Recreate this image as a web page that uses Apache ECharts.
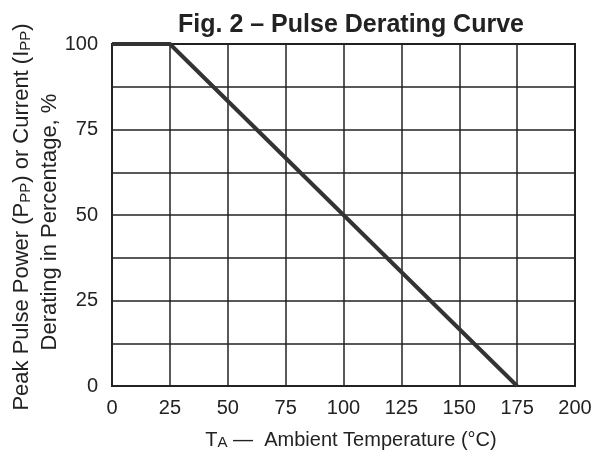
<!DOCTYPE html>
<html>
<head>
<meta charset="utf-8">
<script src="https://cdn.jsdelivr.net/npm/echarts@6/dist/echarts.min.js"></script>
<style>
  html, body { margin: 0; padding: 0; background: #fff; }
  #chart { width: 608px; height: 456px; }
</style>
</head>
<body>
<div id="chart"></div>
<script>
// derating curve: ambient temperature (°C) vs. allowed percentage
const temps = [0, 25, 175];
const percent = [100, 100, 0];
const xTicks = [0, 25, 50, 75, 100, 125, 150, 175, 200];
const yTicks = [0, 25, 50, 75, 100];

const chart = echarts.init(document.getElementById('chart'));
const font = 'Liberation Sans, Arial, Helvetica, sans-serif';
const ink = '#222';

const option = {
  backgroundColor: '#fff',
  animation: false,
  title: {
    text: 'Fig. 2 – Pulse Derating Curve',
    left: 346,
    textAlign: 'center',
    top: 8,
    textStyle: { fontFamily: font, fontSize: 25, fontWeight: 'bold', color: ink }
  },
  grid: {
    left: 112, right: 33, top: 44, bottom: 70,
    show: true, borderColor: ink, borderWidth: 2, backgroundColor: 'transparent'
  },
  xAxis: {
    type: 'value', min: 0, max: 200, interval: 25,
    axisLine: { show: true, lineStyle: { color: ink, width: 2 } },
    axisTick: { show: false },
    axisLabel: {
      margin: 12, color: ink, fontSize: 20, fontFamily: font,
      formatter: v => xTicks.includes(v) ? String(v) : ''
    },
    splitLine: { show: true, lineStyle: { color: ink, width: 1.5 } }
  },
  yAxis: {
    type: 'value', min: 0, max: 100, interval: 12.5,
    axisLine: { show: true, lineStyle: { color: ink, width: 2 } },
    axisTick: { show: false },
    axisLabel: {
      margin: 14, color: ink, fontSize: 20, fontFamily: font,
      formatter: v => yTicks.includes(v) ? String(v) : ''
    },
    splitLine: { show: true, lineStyle: { color: ink, width: 1.5 } }
  },
  graphic: [
    {
      type: 'text',
      x: 22, y: 217, rotation: Math.PI / 2,
      style: {
        text: 'Peak Pulse Power (P{s|PP}) or Current (I{s|PP})',
        fontFamily: font, fontSize: 22, fill: ink,
        align: 'center', verticalAlign: 'middle',
        rich: {
          s: { fontSize: 15, fontFamily: font, fill: ink, verticalAlign: 'bottom', padding: [6, 0, 0, 0] }
        }
      }
    },
    {
      type: 'text',
      x: 50, y: 222, rotation: Math.PI / 2,
      style: {
        text: 'Derating in Percentage, %',
        fontFamily: font, fontSize: 22, fill: ink,
        align: 'center', verticalAlign: 'middle'
      }
    },
    {
      type: 'text',
      x: 351, y: 440,
      style: {
        text: 'T{s|A} —  Ambient Temperature (°C)',
        fontFamily: font, fontSize: 20, fill: ink,
        align: 'center', verticalAlign: 'middle',
        rich: {
          s: { fontSize: 15, fontFamily: font, fill: ink, verticalAlign: 'bottom', padding: [6, 0, 0, 0] }
        }
      }
    }
  ],
  series: [{
    type: 'line',
    data: temps.map((t, i) => [t, percent[i]]),
    showSymbol: false,
    lineStyle: { color: '#333', width: 4 },
    z: 5
  }]
};

chart.setOption(option);
</script>
</body>
</html>
